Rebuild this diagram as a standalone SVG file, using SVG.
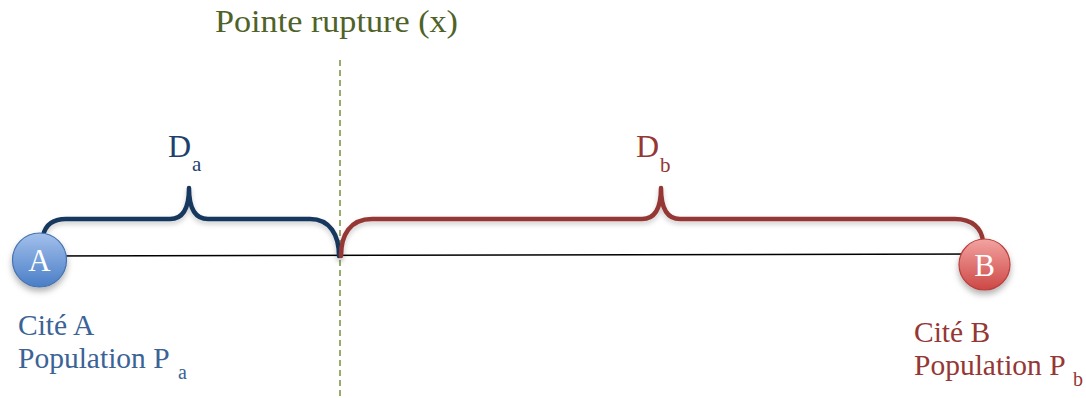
<svg xmlns="http://www.w3.org/2000/svg" width="1086" height="398" viewBox="0 0 1086 398">
<defs>
<linearGradient id="gA" x1="0" y1="0" x2="0" y2="1">
<stop offset="0" stop-color="#A3C0EC"/>
<stop offset="1" stop-color="#4A7EC6"/>
</linearGradient>
<linearGradient id="gB" x1="0" y1="0" x2="0" y2="1">
<stop offset="0" stop-color="#F3A3A1"/>
<stop offset="1" stop-color="#CC4846"/>
</linearGradient>
<filter id="sh" x="-30%" y="-30%" width="160%" height="180%">
<feDropShadow dx="0" dy="4" stdDeviation="3" flood-color="#000" flood-opacity="0.3"/>
</filter>
<filter id="shb" x="-5%" y="-30%" width="110%" height="180%">
<feDropShadow dx="0" dy="3" stdDeviation="2.5" flood-color="#000" flood-opacity="0.2"/>
</filter>
</defs>
<style>
.serif{font-family:"Liberation Serif","DejaVu Serif",serif}
.brace{fill:none;stroke-width:4.5;stroke-linecap:round;stroke-linejoin:round}
.blue{fill:#3B6396}
.navy{fill:#1F3F6E}
.red{fill:#953735}
.nodeTxt{fill:#fff;font-size:31px;text-anchor:middle}
</style>
<rect width="1086" height="398" fill="#fff"/>
<g id="connectors">
<line x1="340" y1="60" x2="340" y2="398" stroke="#77933C" stroke-width="1.5" stroke-dasharray="6,4"/>
<line x1="40" y1="256" x2="984" y2="254" stroke="#000" stroke-width="1.5"/>
<path class="brace" stroke="#17375E" filter="url(#shb)" d="M43,236 C45,226 52,219 66,219 L170,219 C182,219 189,210 189,188 C189,210 196,219 208,219 L310,219 C330,219 339,235 339,256"/>
<path class="brace" stroke="#953735" filter="url(#shb)" d="M341,256 C341,235 350,219 372,219 L642,219 C654,219 661,210 661,188 C661,210 668,219 680,219 L955,219 C972,219 982,228 983,242"/>
</g>
<g id="title">
<text class="serif" x="215" y="32" font-size="32" fill="#4F6228" textLength="243" lengthAdjust="spacingAndGlyphs">Pointe rupture (x)</text>
</g>
<g id="label-Da">
<text class="serif navy" x="168" y="157" font-size="32">D</text>
<text class="serif navy" x="192" y="171" font-size="21">a</text>
</g>
<g id="label-Db">
<text class="serif red" x="636" y="157" font-size="32">D</text>
<text class="serif red" x="660" y="172" font-size="21">b</text>
</g>
<g id="node-A">
<circle cx="39.5" cy="260" r="27" fill="url(#gA)" stroke="#4672B0" stroke-width="1.2" filter="url(#sh)"/>
<text class="serif nodeTxt" x="39.5" y="271">A</text>
</g>
<g id="node-B">
<circle cx="984.5" cy="264.5" r="25.5" fill="url(#gB)" stroke="#B9403E" stroke-width="1.2" filter="url(#sh)"/>
<text class="serif nodeTxt" x="984.5" y="276">B</text>
</g>
<g id="label-A">
<text class="serif blue" x="18" y="335" font-size="29.5">Cité A</text>
<text class="serif blue" x="18" y="368" font-size="29.5">Population P</text>
<text class="serif blue" x="178" y="379" font-size="20">a</text>
</g>
<g id="label-B">
<text class="serif red" x="914" y="342" font-size="29.5">Cité B</text>
<text class="serif red" x="914" y="375" font-size="29.5">Population P</text>
<text class="serif red" x="1073" y="386" font-size="20">b</text>
</g>
</svg>
